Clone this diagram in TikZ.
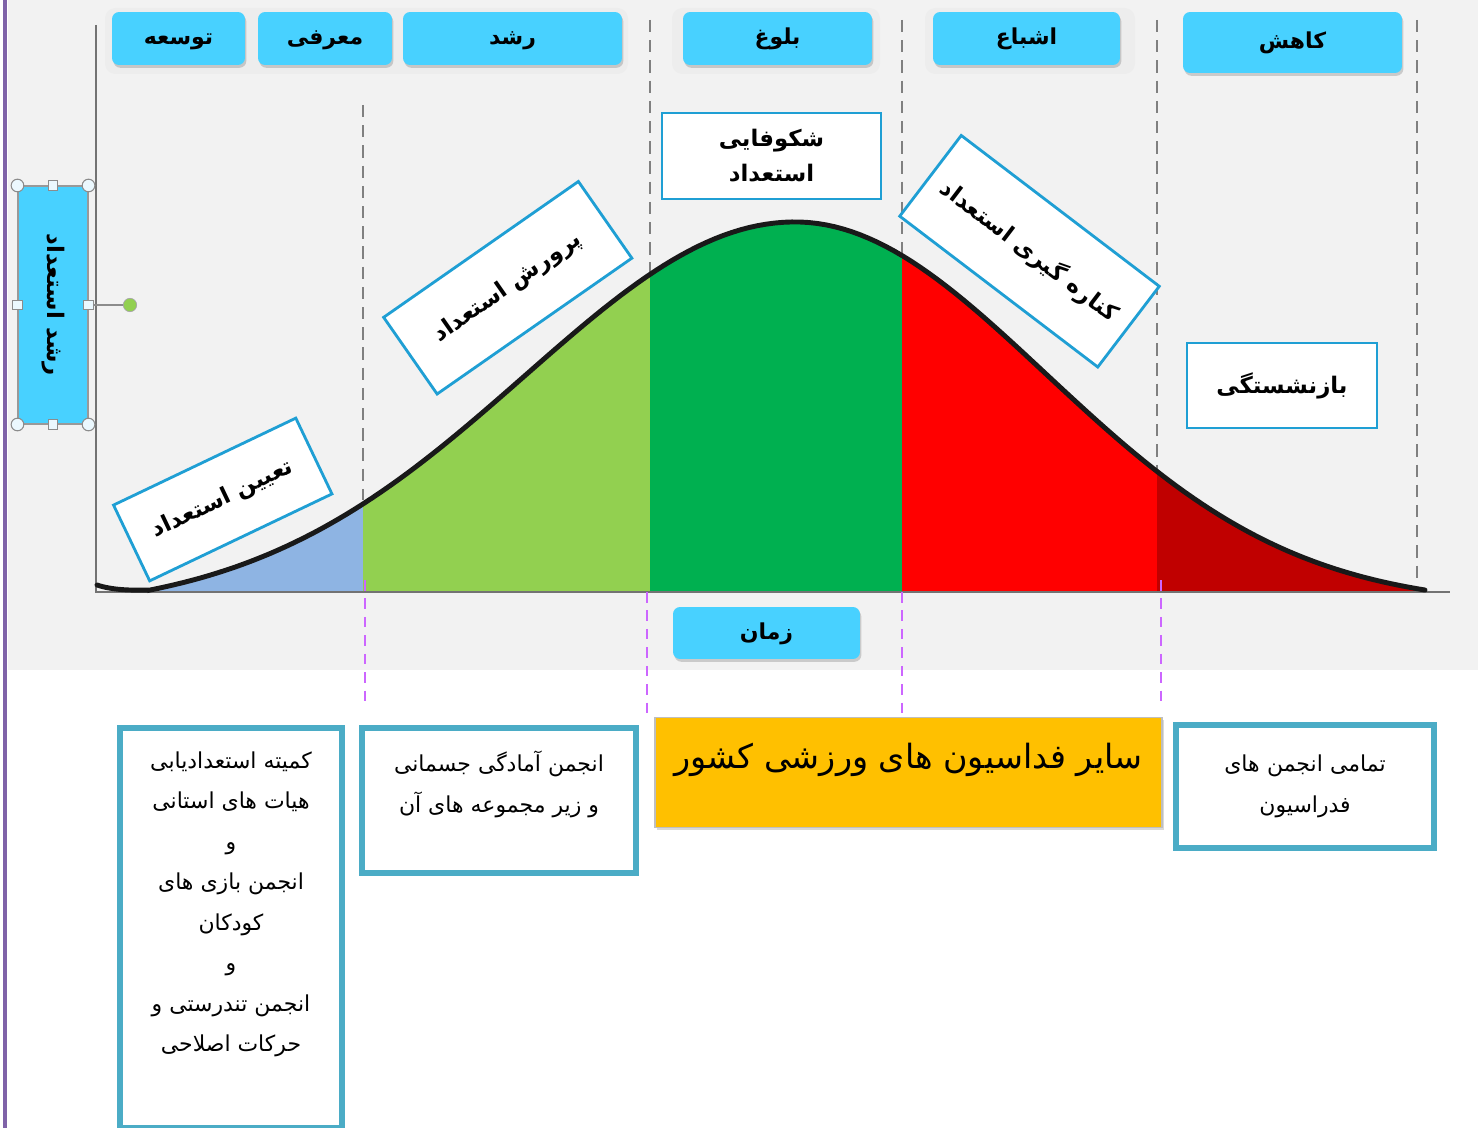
\documentclass[tikz,border=0pt]{standalone}
\usepackage{fontspec}
\newfontfamily\persan[Script=Arabic]{DejaVu Sans}
\TeXXeTstate=1
\usetikzlibrary{shadows,calc}
\definecolor{couleurcyan}{HTML}{48D1FF}
\definecolor{couleurcadre}{HTML}{1F9FD4}
\definecolor{couleurorgane}{HTML}{4BACC6}
\definecolor{couleurorange}{HTML}{FFC000}
\definecolor{couleurfond}{HTML}{F2F2F2}
\definecolor{couleurbleu}{HTML}{8EB4E3}
\definecolor{couleurvertclair}{HTML}{92D050}
\definecolor{couleurvert}{HTML}{00B050}
\definecolor{couleurrouge}{HTML}{FF0000}
\definecolor{couleurrougefonc}{HTML}{C00000}
\definecolor{couleurmagenta}{HTML}{CC66FF}
\definecolor{couleurcadrefeuille}{HTML}{7F63A8}
\newcommand{\fa}[1]{\beginR #1\endR}
\newcommand{\tiretvert}[3]{\draw[#1] (#2) -- (#3);}
\tikzset{
		basic/.style={text=black, align=center, inner sep=2pt, font=\persan\fontsize{12.5}{23}\selectfont},
		entete/.style={basic, fill=couleurcyan, rounded corners=4pt, font=\persan\bfseries\fontsize{12.5}{16}\selectfont, text height=9pt, text depth=2pt, drop shadow={opacity=0.35, shadow xshift=0.8pt, shadow yshift=-1.6pt}},
		cadre/.style={basic, fill=white, draw=couleurcadre, line width=1.6pt, font=\persan\bfseries\fontsize{13}{20}\selectfont},
		organe/.style={basic, fill=white, draw=couleurorgane, line width=3.2pt},
		tiretgris/.style={draw=black!50, line width=1.3pt, dash pattern=on 7pt off 4.5pt},
		tiretmagenta/.style={draw=couleurmagenta, line width=1.6pt, dash pattern=on 6pt off 4.5pt},
		poignee/.style={draw=black!45, fill=cyan!8, line width=0.6pt}
	}

\begin{document}
\begin{tikzpicture}[x=0.02cm, y=-0.02cm,
		declare function={
			gauche(\t)=exp(-0.5*((\t-795)/270)^2);
			droite(\t)=exp(-0.5*((\t-795)/250)^2);
			cloche(\t)=(\t<795)*(590-368*(gauche(\t)-0.0577)/0.9423)+(\t>=795)*(590-368*(droite(\t)-0.0418)/0.9582);}]
		\useasboundingbox (0,0) rectangle (1478,1128);
		% fond
		\fill[couleurfond] (8,0) rectangle (1478,670);
		\fill[couleurcadrefeuille] (3,0) rectangle (7,1128);
		\foreach \deb/\fin in {105/628, 672/880, 925/1135}
			\fill[black!7, rounded corners=6pt] (\deb,8) rectangle (\fin,74);
		
		% lignes pointillees
		\foreach \x/\ya/\yb in {363/105/500, 650/20/280, 902/20/255, 1157/20/470, 1417/20/578}
			\draw[tiretgris] (\x,\ya) -- (\x,\yb);
		
		% courbe
		\foreach \deb/\fin/\coul in {150/363/couleurbleu, 363/650/couleurvertclair, 650/902/couleurvert, 902/1157/couleurrouge, 1157/1425/couleurrougefonc}
			\fill[\coul] plot[domain=\deb:\fin, samples=40] (\x,{cloche(\x)}) -- (\fin,592) -- (\deb,592) -- cycle;
		\draw[black!55, line width=1.1pt] (96,25) -- (96,592) -- (1450,592);
		\draw[black!90, line width=2.8pt, line cap=round] (97,585) .. controls (112,590) and (130,590.5) .. (150,590) -- plot[domain=150:1425, samples=150] (\x,{cloche(\x)});
		
		% entetes
		\node[entete, minimum width=2.66cm, minimum height=1.06cm](tosseeh) at (178.5,38.5){\fa{توسعه}};
		\node[entete, minimum width=2.68cm, minimum height=1.06cm](moarefi) at (325,38.5){\fa{معرفی}};
		\node[entete, minimum width=4.38cm, minimum height=1.06cm](roshdhdr) at (512.5,38.5){\fa{رشد}};
		\node[entete, minimum width=3.78cm, minimum height=1.06cm](bolughdr) at (777.5,38.5){\fa{بلوغ}};
		\node[entete, minimum width=3.74cm, minimum height=1.06cm](eshbaahd) at (1026.5,38.5){\fa{اشباع}};
		\node[entete, minimum width=4.38cm, minimum height=1.22cm](kaheshhd) at (1292.5,42.5){\fa{کاهش}};
		\node[entete, minimum width=3.74cm, minimum height=1.04cm](zamanaxe) at (766.5,633){\fa{زمان}};
		
		% axe vertical
		\node[basic, fill=couleurcyan, draw=black!40, line width=0.6pt, rotate=-90, minimum width=4.76cm, minimum height=1.4cm, font=\persan\bfseries\fontsize{13}{16}\selectfont](roshesta) at (53,305){\fa{رشد استعداد}};
		\draw[black!45, line width=0.6pt] (roshesta.north) -- (130,305) coordinate(rotation);
		\fill[couleurvertclair, draw=black!35] (rotation) circle (3.8pt);
		\foreach \ang in {north west, north east, south west, south east}
			\draw[poignee] (roshesta.\ang) circle (3.6pt);
		\foreach \ang in {north, south, east, west}
			\draw[poignee] ($(roshesta.\ang)+(-2.6pt,-2.6pt)$) rectangle ++(5.2pt,5.2pt);
		
		% etapes
		\node[cadre, rotate=25.5, minimum width=4.04cm, minimum height=1.68cm](tainesta) at (222.75,499.5){\fa{تعیین استعداد}};
		\node[cadre, rotate=34.9, minimum width=4.75cm, minimum height=1.87cm](parvesta) at (507.75,287.75){\fa{پرورش استعداد}};
		\node[cadre, minimum width=4.38cm, minimum height=1.72cm](shokesta) at (771.5,156){\fa{شکوفایی}\\\fa{استعداد}};
		\node[cadre, rotate=-37.3, minimum width=4.98cm, minimum height=2.03cm](kenaesta) at (1029.5,251.25){\fa{کناره گیری استعداد}};
		\node[cadre, minimum width=3.8cm, minimum height=1.7cm](baznesta) at (1282,385.5){\fa{بازنشستگی}};
		
		% organes
		\node[organe, anchor=north, minimum width=4.44cm, minimum height=8cm](comiesta) at (231,725){\parbox[t][7.6cm][t]{4.2cm}{\centering\vspace*{8pt}\fa{کمیته استعدادیابی}\\\fa{هیات های استانی}\\\fa{و}\\\fa{انجمن بازی های}\\\fa{کودکان}\\\fa{و}\\\fa{انجمن تندرستی و}\\\fa{حرکات اصلاحی}}};
		\node[organe, anchor=north, minimum width=5.48cm, minimum height=2.9cm](anjamadg) at (499,725){\parbox[t][2.6cm][t]{5.2cm}{\centering\vspace*{9pt}\fa{انجمن آمادگی جسمانی}\\\fa{و زیر مجموعه های آن}}};
		\node[basic, fill=couleurorange, draw=black!25, line width=0.8pt, anchor=north, minimum width=10.14cm, minimum height=2.2cm, font=\persan\fontsize{19}{24}\selectfont, drop shadow={opacity=0.3, shadow xshift=1pt, shadow yshift=-1.5pt}](sayerfed) at (908.5,717){\parbox[t][1.9cm][t]{10cm}{\centering\vspace*{10pt}\fa{سایر فداسیون های ورزشی کشور}}};
		\node[organe, minimum width=5.16cm, minimum height=2.46cm, text width=4.6cm](tamanjom) at (1305,786.5){\fa{تمامی انجمن های}\\\fa{فدراسیون}};
		
		% Liens
		\tiretvert{tiretmagenta}{365,580}{365,705}
		\tiretvert{tiretmagenta}{647,592}{647,720}
		\tiretvert{tiretmagenta}{902,592}{902,718}
		\tiretvert{tiretmagenta}{1161,580}{1161,707}
	\end{tikzpicture}
\end{document}
